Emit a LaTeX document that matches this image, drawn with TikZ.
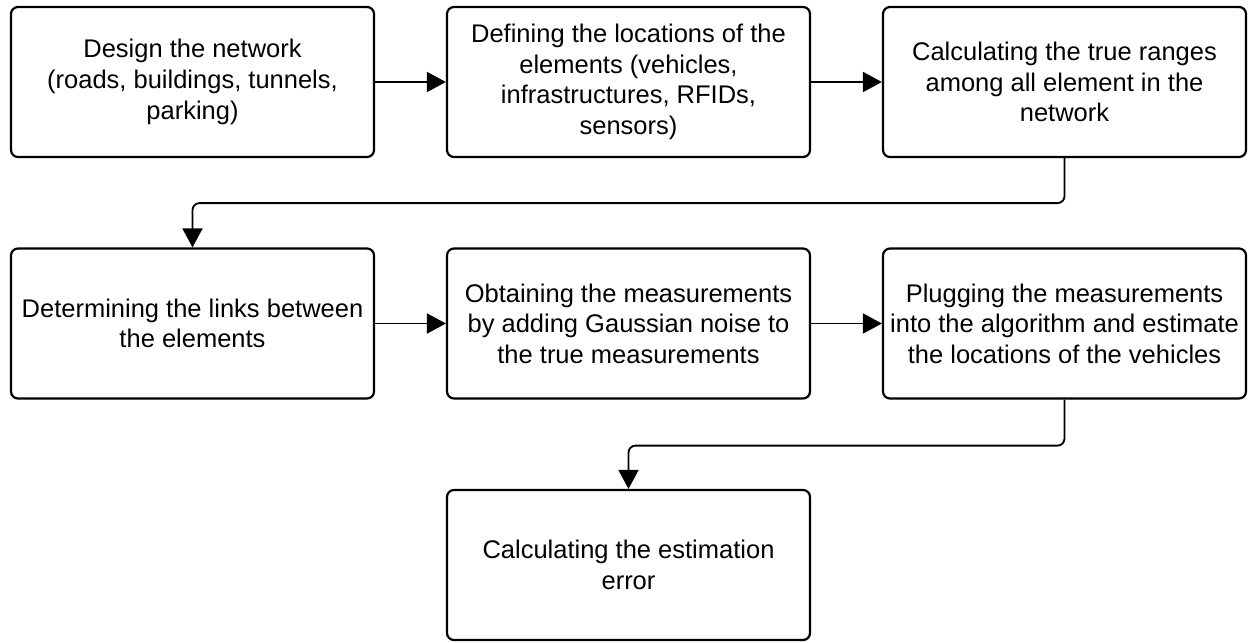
\documentclass[tikz,border=0pt]{standalone}
\usepackage{fontspec}
\setmainfont{Liberation Sans}
\usetikzlibrary{arrows.meta}
\begin{document}
\begin{tikzpicture}[x=1pt,y=1pt,
  stepbox/.style={draw, rounded corners=7pt, line width=2.2pt,
    minimum width=363pt, minimum height=150pt, inner sep=1pt,
    align=center, font=\fontsize{25.5}{30.6}\selectfont},
  flow/.style={line width=1.8pt, rounded corners=7pt,
    -{Triangle[length=19pt,width=20pt]}}]
\useasboundingbox (0,0) rectangle (1249,-642);
% first row
\node[stepbox] (b1) at (192.5,-82) {Design the network\\(roads, buildings, tunnels,\\parking)};
\node[stepbox] (b2) at (628.5,-82) {Defining the locations of the\\elements (vehicles,\\infrastructures, RFIDs,\\sensors)};
\node[stepbox] (b3) at (1064.5,-82) {Calculating the true ranges\\among all element in the\\network};
% second row
\node[stepbox] (b4) at (192.5,-323.5) {Determining the links between\\the elements};
\node[stepbox] (b5) at (628.5,-323.5) {Obtaining the measurements\\by adding Gaussian noise to\\the true measurements};
\node[stepbox] (b6) at (1064.5,-323.5) {Plugging the measurements\\into the algorithm and estimate\\the locations of the vehicles};
% last step
\node[stepbox] (b7) at (628.5,-565) {Calculating the estimation\\error};
% connectors
\draw[flow] (b1) -- (b2);
\draw[flow] (b2) -- (b3);
\draw[flow] (b3.south) -- ++(0,-45) -| (b4.north);
\draw[flow] (b4) -- (b5);
\draw[flow] (b5) -- (b6);
\draw[flow] (b6.south) -- ++(0,-46) -| (b7.north);
\end{tikzpicture}
\end{document}
